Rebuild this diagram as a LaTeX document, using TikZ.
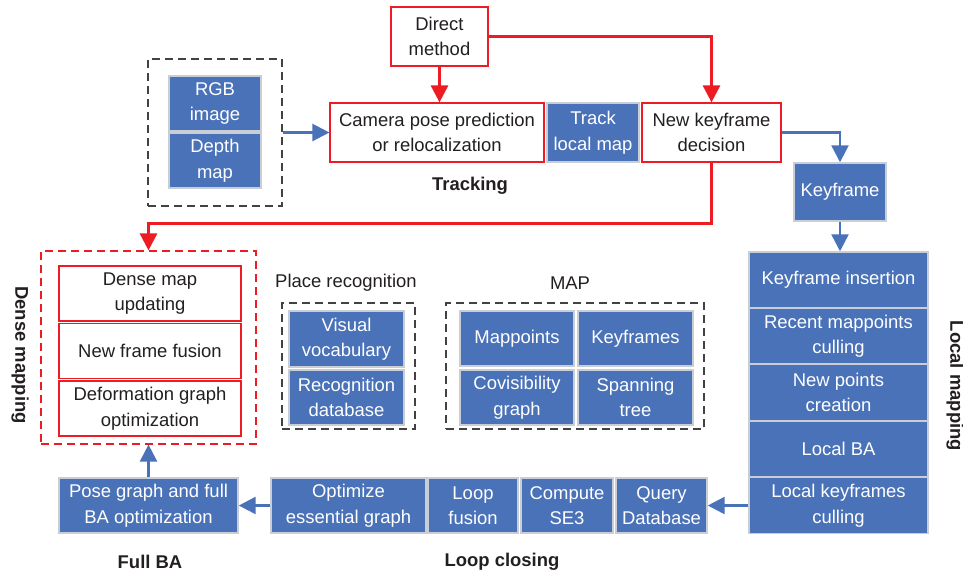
\documentclass[tikz,border=0pt]{standalone}
\usepackage{fontspec}
\setmainfont{Liberation Sans}
\usetikzlibrary{arrows.meta}
\definecolor{slamblue}{RGB}{74,114,184}
\definecolor{slamred}{RGB}{237,28,36}
\definecolor{edgegray}{RGB}{200,205,214}
\definecolor{inkgray}{RGB}{35,31,32}
\tikzset{
  bluebox/.style={draw=edgegray, line width=0.3mm, fill=slamblue, text=white, align=center, inner sep=0pt, minimum height=11mm},
  redbox/.style={draw=slamred, line width=0.25mm, fill=white, text=inkgray, align=center, inner sep=0pt, minimum height=11.8mm},
  groupbox/.style={draw=inkgray!85, line width=0.25mm, dash pattern=on 1.6mm off 1mm, inner sep=0pt},
  bluearrow/.style={draw=slamblue, line width=0.5mm, -{Triangle[length=3.4mm,width=3.4mm]}},
  redarrow/.style={draw=slamred, line width=0.55mm, -{Triangle[length=3.4mm,width=3.4mm]}},
  caption/.style={text=inkgray, font=\fontsize{10.5}{14.5}\selectfont\bfseries}
}
\begin{document}
\begin{tikzpicture}[x=0.02cm, y=-0.02cm, font=\fontsize{10.5}{14.5}\selectfont]
\useasboundingbox (0,0) rectangle (963,576);

\node (direct) at (439.5,36.5) [redbox, minimum width=19.4mm] {Direct\\method};

\node (input) at (215,132.5) [groupbox, minimum width=26.8mm, minimum height=29.4mm] {};
\node (rgb) at (215,103.5) [bluebox, minimum width=18.4mm] {RGB\\image};
\node (depth) at (215,160.5) [bluebox, minimum width=18.4mm] {Depth\\map};

\node (camera) at (437,132.5) [redbox, minimum width=42.8mm] {Camera pose prediction\\or relocalization};
\node (track) at (593,132.5) [bluebox, minimum width=18.4mm, minimum height=11.8mm] {Track\\local map};
\node (newkf) at (711.5,132.5) [redbox, minimum width=27.8mm] {New keyframe\\decision};
\node (tracking) at (470,186) [caption] {Tracking};

\node (keyframe) at (840,192) [bluebox, minimum width=18.4mm, minimum height=11.6mm] {Keyframe};

\node (kfins) at (838.5,280) [bluebox, minimum width=35.8mm, minimum height=11.2mm] {Keyframe insertion};
\node (culling) at (838.5,336) [bluebox, minimum width=35.8mm, minimum height=11.2mm] {Recent mappoints\\culling};
\node (newpts) at (838.5,392.5) [bluebox, minimum width=35.8mm, minimum height=11.2mm] {New points\\creation};
\node (localba) at (838.5,449) [bluebox, minimum width=35.8mm, minimum height=11.2mm] {Local BA};
\node (lkc) at (838.5,505.5) [bluebox, minimum width=35.8mm, minimum height=11.2mm] {Local keyframes\\culling};
\node (localmapping) at (955,386) [caption, rotate=-90] {Local mapping};

\node (dense) at (148.5,347.5) [groupbox, draw=slamred, minimum width=43mm, minimum height=38.6mm] {};
\node (denseupd) at (150,293.5) [redbox, minimum width=36.4mm, minimum height=11mm] {Dense map\\updating};
\node (fusion) at (150,351) [redbox, minimum width=36.4mm, minimum height=11mm] {New frame fusion};
\node (deform) at (150,408.5) [redbox, minimum width=36.4mm, minimum height=11mm] {Deformation graph\\optimization};
\node (densemapping) at (20,355) [caption, rotate=-90] {Dense mapping};

\node (placerec) at (346,283) [text=inkgray] {Place recognition};
\node (place) at (348.5,366) [groupbox, minimum width=26.6mm, minimum height=25.2mm] {};
\node (vocab) at (346.5,339) [bluebox, minimum width=23mm, minimum height=11.2mm] {Visual\\vocabulary};
\node (recdb) at (346.5,397.5) [bluebox, minimum width=23mm] {Recognition\\database};

\node (maplabel) at (570,283) [text=inkgray] {MAP};
\node (map) at (575,366) [groupbox, minimum width=51.6mm, minimum height=25.2mm] {};
\node (mappoints) at (517,338.5) [bluebox, minimum width=22.8mm] {Mappoints};
\node (keyframes) at (635.5,338.5) [bluebox, minimum width=23mm] {Keyframes};
\node (covis) at (517,397.5) [bluebox, minimum width=22.8mm] {Covisibility\\graph};
\node (spanning) at (635.5,397.5) [bluebox, minimum width=23mm] {Spanning\\tree};

\node (posegraph) at (148.5,505.5) [bluebox, minimum width=35.8mm] {Pose graph and full\\BA optimization};
\node (essential) at (348.5,505.5) [bluebox, minimum width=31mm] {Optimize\\essential graph};
\node (loopfusion) at (473,505.5) [bluebox, minimum width=18mm] {Loop\\fusion};
\node (se3) at (567,505.5) [bluebox, minimum width=18.4mm] {Compute\\SE3};
\node (query) at (661.5,505.5) [bluebox, minimum width=18.2mm] {Query\\Database};
\node (fullba) at (150,562) [caption] {Full BA};
\node (loopclosing) at (502,562) [caption] {Loop closing};

\draw[redarrow] (direct.east) -| (newkf.north);
\draw[redarrow] (direct.south) -- (direct.south |- camera.north);
\draw[redarrow] (newkf.south) -- ++(0,61) -| (dense.north);

\draw[bluearrow] (input.east) -- (camera.west);
\draw[bluearrow] (newkf.east) -| (keyframe.north);
\draw[bluearrow] (keyframe.south) -- (kfins.north -| keyframe.south);
\draw[bluearrow] (lkc.west) -- (query.east);
\draw[bluearrow] (essential.west) -- (posegraph.east);
\draw[bluearrow] (posegraph.north) -- (dense.south);
\end{tikzpicture}
\end{document}
